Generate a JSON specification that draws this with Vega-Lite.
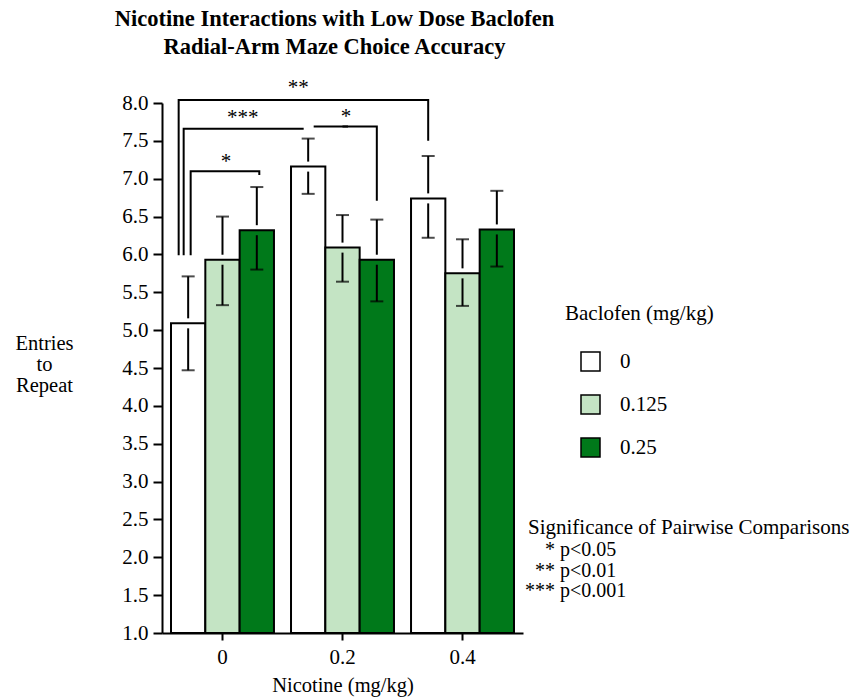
{
  "$schema": "https://vega.github.io/schema/vega-lite/v6.json",
  "width": 361,
  "height": 530,
  "autosize": {"type": "none"},
  "padding": {"left": 162, "top": 103, "right": 338, "bottom": 67},
  "background": "white",
  "title": {
    "text": ["Nicotine Interactions with Low Dose Baclofen", "Radial-Arm Maze Choice Accuracy"],
    "font": "Liberation Serif",
    "fontSize": 22.5,
    "fontWeight": "bold",
    "color": "black",
    "anchor": "middle",
    "dx": -8,
    "offset": 18,
    "lineHeight": 28
  },
  "config": {
    "view": {"stroke": null},
    "font": "Liberation Serif",
    "axis": {
      "domainColor": "black",
      "domainWidth": 2,
      "tickColor": "black",
      "tickWidth": 2,
      "labelColor": "black",
      "titleColor": "black",
      "labelFont": "Liberation Serif",
      "titleFont": "Liberation Serif",
      "labelFontSize": 21,
      "titleFontSize": 20.5,
      "titleFontWeight": "normal",
      "grid": false
    },
    "legend": {
      "labelFont": "Liberation Serif",
      "titleFont": "Liberation Serif",
      "labelFontSize": 21,
      "titleFontSize": 21,
      "titleFontWeight": "normal",
      "labelColor": "black",
      "titleColor": "black",
      "titleLimit": 400,
      "labelLimit": 300
    }
  },
  "resolve": {"scale": {"xOffset": "independent"}},
  "datasets": {
    "bars": [
      {"nicotine": "0", "baclofen": "0", "mean": 5.09, "lo": 4.47, "hi": 5.71},
      {"nicotine": "0", "baclofen": "0.125", "mean": 5.93, "lo": 5.33, "hi": 6.50},
      {"nicotine": "0", "baclofen": "0.25", "mean": 6.32, "lo": 5.80, "hi": 6.89},
      {"nicotine": "0.2", "baclofen": "0", "mean": 7.16, "lo": 6.80, "hi": 7.53},
      {"nicotine": "0.2", "baclofen": "0.125", "mean": 6.09, "lo": 5.64, "hi": 6.52},
      {"nicotine": "0.2", "baclofen": "0.25", "mean": 5.93, "lo": 5.38, "hi": 6.46},
      {"nicotine": "0.4", "baclofen": "0", "mean": 6.74, "lo": 6.22, "hi": 7.30},
      {"nicotine": "0.4", "baclofen": "0.125", "mean": 5.75, "lo": 5.32, "hi": 6.20},
      {"nicotine": "0.4", "baclofen": "0.25", "mean": 6.33, "lo": 5.84, "hi": 6.84}
    ],
    "brackets": [
      {"seg": "A-left", "ord": 1, "nicotine": "0", "baclofen": "0", "y": 5.99},
      {"seg": "A-left", "ord": 2, "nicotine": "0", "baclofen": "0", "y": 8.04},
      {"seg": "A-left", "ord": 3, "nicotine": "0", "baclofen": "0.125", "y": 8.04},
      {"seg": "A-main", "ord": 1, "nicotine": "0", "baclofen": "0", "y": 8.04},
      {"seg": "A-main", "ord": 2, "nicotine": "0.4", "baclofen": "0", "y": 8.04},
      {"seg": "A-main", "ord": 3, "nicotine": "0.4", "baclofen": "0", "y": 7.50},
      {"seg": "B", "ord": 1, "nicotine": "0", "baclofen": "0", "y": 5.99},
      {"seg": "B", "ord": 2, "nicotine": "0", "baclofen": "0", "y": 7.66},
      {"seg": "B", "ord": 3, "nicotine": "0.2", "baclofen": "0", "y": 7.66},
      {"seg": "C", "ord": 1, "nicotine": "0", "baclofen": "0", "y": 5.99},
      {"seg": "C", "ord": 2, "nicotine": "0", "baclofen": "0", "y": 7.10},
      {"seg": "C", "ord": 3, "nicotine": "0", "baclofen": "0.25", "y": 7.10},
      {"seg": "C", "ord": 4, "nicotine": "0", "baclofen": "0.25", "y": 7.05},
      {"seg": "D-left", "ord": 1, "nicotine": "0.2", "baclofen": "0", "y": 7.69},
      {"seg": "D-left", "ord": 2, "nicotine": "0.2", "baclofen": "0.125", "y": 7.69},
      {"seg": "D-main", "ord": 1, "nicotine": "0.2", "baclofen": "0.125", "y": 7.69},
      {"seg": "D-main", "ord": 2, "nicotine": "0.2", "baclofen": "0.25", "y": 7.69},
      {"seg": "D-main", "ord": 3, "nicotine": "0.2", "baclofen": "0.25", "y": 6.71}
    ],
    "labels": [
      {"stars": "**", "p": "p<0.01", "nicotine": "0.2", "baclofen": "0", "y": 8.04},
      {"stars": "***", "p": "p<0.001", "nicotine": "0", "baclofen": "0.25", "y": 7.66},
      {"stars": "*", "p": "p<0.05", "nicotine": "0", "baclofen": "0.125", "y": 7.10},
      {"stars": "*", "p": "p<0.05", "nicotine": "0.2", "baclofen": "0.125", "y": 7.69}
    ]
  },
  "encoding": {
    "x": {
      "field": "nicotine",
      "type": "nominal",
      "scale": {"domain": ["0", "0.2", "0.4"], "paddingInner": 0.142, "paddingOuter": 0.075},
      "axis": {"labelAngle": 0, "tickSize": 7, "labelPadding": 6, "titlePadding": 8},
      "title": "Nicotine (mg/kg)"
    },
    "xOffset": {
      "field": "baclofen",
      "type": "nominal",
      "scale": {"type": "band", "domain": ["0", "0.125", "0.25"], "paddingInner": 0, "paddingOuter": 0}
    }
  },
  "layer": [
    {
      "data": {"name": "bars"},
      "mark": {"type": "bar", "stroke": "black", "strokeWidth": 2},
      "encoding": {
        "y": {
          "field": "mean",
          "type": "quantitative",
          "scale": {"domain": [1, 8], "nice": false, "zero": false},
          "axis": {"values": [1, 1.5, 2, 2.5, 3, 3.5, 4, 4.5, 5, 5.5, 6, 6.5, 7, 7.5, 8], "format": ".1f", "tickSize": 9, "labelPadding": 5, "titleAngle": 0, "titleAlign": "center", "titleBaseline": "middle", "titleX": -118, "titleY": 240, "titleLineHeight": 21},
          "title": ["Entries", "to", "Repeat"]
        },
        "y2": {"datum": 1},
        "fill": {
          "field": "baclofen",
          "type": "nominal",
          "scale": {"domain": ["0", "0.125", "0.25"], "range": ["#ffffff", "#c4e4c4", "#00791a"]},
          "legend": {
            "title": "Baclofen (mg/kg)",
            "orient": "none",
            "legendX": 403,
            "legendY": 200,
            "symbolType": "square",
            "symbolSize": 361,
            "symbolStrokeColor": "black",
            "symbolStrokeWidth": 1.5,
            "symbolOffset": 15,
            "labelOffset": 19,
            "rowPadding": 18,
            "titlePadding": 27
          }
        }
      }
    },
    {
      "data": {"name": "bars"},
      "mark": {"type": "rule", "color": "black", "strokeWidth": 2, "y2Offset": -5},
      "encoding": {
        "y": {"field": "hi", "type": "quantitative", "scale": {"domain": [1, 8], "nice": false, "zero": false}, "axis": {"values": [1, 1.5, 2, 2.5, 3, 3.5, 4, 4.5, 5, 5.5, 6, 6.5, 7, 7.5, 8], "format": ".1f", "tickSize": 9, "labelPadding": 5, "titleAngle": 0, "titleAlign": "center", "titleBaseline": "middle", "titleX": -118, "titleY": 240, "titleLineHeight": 21}},
        "y2": {"field": "mean"}
      }
    },
    {
      "data": {"name": "bars"},
      "mark": {"type": "rule", "color": "black", "strokeWidth": 2, "yOffset": 5},
      "encoding": {
        "y": {"field": "mean", "type": "quantitative", "scale": {"domain": [1, 8], "nice": false, "zero": false}, "axis": {"values": [1, 1.5, 2, 2.5, 3, 3.5, 4, 4.5, 5, 5.5, 6, 6.5, 7, 7.5, 8], "format": ".1f", "tickSize": 9, "labelPadding": 5, "titleAngle": 0, "titleAlign": "center", "titleBaseline": "middle", "titleX": -118, "titleY": 240, "titleLineHeight": 21}},
        "y2": {"field": "lo"}
      }
    },
    {
      "data": {"name": "bars"},
      "mark": {"type": "tick", "color": "black", "size": 13, "thickness": 2, "orient": "horizontal"},
      "encoding": {
        "y": {"field": "lo", "type": "quantitative", "scale": {"domain": [1, 8], "nice": false, "zero": false}, "axis": {"values": [1, 1.5, 2, 2.5, 3, 3.5, 4, 4.5, 5, 5.5, 6, 6.5, 7, 7.5, 8], "format": ".1f", "tickSize": 9, "labelPadding": 5, "titleAngle": 0, "titleAlign": "center", "titleBaseline": "middle", "titleX": -118, "titleY": 240, "titleLineHeight": 21}}
      }
    },
    {
      "data": {"name": "bars"},
      "mark": {"type": "tick", "color": "black", "size": 13, "thickness": 2, "orient": "horizontal"},
      "encoding": {
        "y": {"field": "hi", "type": "quantitative", "scale": {"domain": [1, 8], "nice": false, "zero": false}, "axis": {"values": [1, 1.5, 2, 2.5, 3, 3.5, 4, 4.5, 5, 5.5, 6, 6.5, 7, 7.5, 8], "format": ".1f", "tickSize": 9, "labelPadding": 5, "titleAngle": 0, "titleAlign": "center", "titleBaseline": "middle", "titleX": -118, "titleY": 240, "titleLineHeight": 21}}
      }
    },
    {
      "data": {"name": "brackets"},
      "transform": [{"filter": "datum.seg == 'A-left'"}],
      "mark": {"type": "line", "color": "black", "strokeWidth": 2},
      "encoding": {
        "xOffset": {"field": "baclofen", "type": "nominal", "scale": {"type": "band", "domain": ["0", "0.125", "0.25"], "range": [-9.5, 93.47], "paddingInner": 0, "paddingOuter": 0}},
        "y": {"field": "y", "type": "quantitative", "scale": {"domain": [1, 8], "nice": false, "zero": false}, "axis": {"values": [1, 1.5, 2, 2.5, 3, 3.5, 4, 4.5, 5, 5.5, 6, 6.5, 7, 7.5, 8], "format": ".1f", "tickSize": 9, "labelPadding": 5, "titleAngle": 0, "titleAlign": "center", "titleBaseline": "middle", "titleX": -118, "titleY": 240, "titleLineHeight": 21}},
        "order": {"field": "ord"}
      }
    },
    {
      "data": {"name": "brackets"},
      "transform": [{"filter": "datum.seg == 'A-main'"}],
      "mark": {"type": "line", "color": "black", "strokeWidth": 2},
      "encoding": {
        "y": {"field": "y", "type": "quantitative", "scale": {"domain": [1, 8], "nice": false, "zero": false}, "axis": {"values": [1, 1.5, 2, 2.5, 3, 3.5, 4, 4.5, 5, 5.5, 6, 6.5, 7, 7.5, 8], "format": ".1f", "tickSize": 9, "labelPadding": 5, "titleAngle": 0, "titleAlign": "center", "titleBaseline": "middle", "titleX": -118, "titleY": 240, "titleLineHeight": 21}},
        "order": {"field": "ord"}
      }
    },
    {
      "data": {"name": "brackets"},
      "transform": [{"filter": "datum.seg == 'B'"}],
      "mark": {"type": "line", "color": "black", "strokeWidth": 2},
      "encoding": {
        "xOffset": {"field": "baclofen", "type": "nominal", "scale": {"type": "band", "domain": ["0", "0.125", "0.25"], "range": [-4.5, 98.47], "paddingInner": 0, "paddingOuter": 0}},
        "y": {"field": "y", "type": "quantitative", "scale": {"domain": [1, 8], "nice": false, "zero": false}, "axis": {"values": [1, 1.5, 2, 2.5, 3, 3.5, 4, 4.5, 5, 5.5, 6, 6.5, 7, 7.5, 8], "format": ".1f", "tickSize": 9, "labelPadding": 5, "titleAngle": 0, "titleAlign": "center", "titleBaseline": "middle", "titleX": -118, "titleY": 240, "titleLineHeight": 21}},
        "order": {"field": "ord"}
      }
    },
    {
      "data": {"name": "brackets"},
      "transform": [{"filter": "datum.seg == 'C'"}],
      "mark": {"type": "line", "color": "black", "strokeWidth": 2},
      "encoding": {
        "xOffset": {"field": "baclofen", "type": "nominal", "scale": {"type": "band", "domain": ["0", "0.125", "0.25"], "range": [2.5, 105.47], "paddingInner": 0, "paddingOuter": 0}},
        "y": {"field": "y", "type": "quantitative", "scale": {"domain": [1, 8], "nice": false, "zero": false}, "axis": {"values": [1, 1.5, 2, 2.5, 3, 3.5, 4, 4.5, 5, 5.5, 6, 6.5, 7, 7.5, 8], "format": ".1f", "tickSize": 9, "labelPadding": 5, "titleAngle": 0, "titleAlign": "center", "titleBaseline": "middle", "titleX": -118, "titleY": 240, "titleLineHeight": 21}},
        "order": {"field": "ord"}
      }
    },
    {
      "data": {"name": "brackets"},
      "transform": [{"filter": "datum.seg == 'D-left'"}],
      "mark": {"type": "line", "color": "black", "strokeWidth": 2},
      "encoding": {
        "xOffset": {"field": "baclofen", "type": "nominal", "scale": {"type": "band", "domain": ["0", "0.125", "0.25"], "range": [5.5, 108.47], "paddingInner": 0, "paddingOuter": 0}},
        "y": {"field": "y", "type": "quantitative", "scale": {"domain": [1, 8], "nice": false, "zero": false}, "axis": {"values": [1, 1.5, 2, 2.5, 3, 3.5, 4, 4.5, 5, 5.5, 6, 6.5, 7, 7.5, 8], "format": ".1f", "tickSize": 9, "labelPadding": 5, "titleAngle": 0, "titleAlign": "center", "titleBaseline": "middle", "titleX": -118, "titleY": 240, "titleLineHeight": 21}},
        "order": {"field": "ord"}
      }
    },
    {
      "data": {"name": "brackets"},
      "transform": [{"filter": "datum.seg == 'D-main'"}],
      "mark": {"type": "line", "color": "black", "strokeWidth": 2},
      "encoding": {
        "y": {"field": "y", "type": "quantitative", "scale": {"domain": [1, 8], "nice": false, "zero": false}, "axis": {"values": [1, 1.5, 2, 2.5, 3, 3.5, 4, 4.5, 5, 5.5, 6, 6.5, 7, 7.5, 8], "format": ".1f", "tickSize": 9, "labelPadding": 5, "titleAngle": 0, "titleAlign": "center", "titleBaseline": "middle", "titleX": -118, "titleY": 240, "titleLineHeight": 21}},
        "order": {"field": "ord"}
      }
    },
    {
      "data": {"name": "labels"},
      "transform": [{"filter": "datum.stars == '*'"}],
      "mark": {"type": "text", "font": "Liberation Serif", "fontSize": 21, "baseline": "alphabetic", "dx": 3.5, "dy": -3},
      "encoding": {
        "y": {"field": "y", "type": "quantitative", "scale": {"domain": [1, 8], "nice": false, "zero": false}, "axis": {"values": [1, 1.5, 2, 2.5, 3, 3.5, 4, 4.5, 5, 5.5, 6, 6.5, 7, 7.5, 8], "format": ".1f", "tickSize": 9, "labelPadding": 5, "titleAngle": 0, "titleAlign": "center", "titleBaseline": "middle", "titleX": -118, "titleY": 240, "titleLineHeight": 21}},
        "text": {"field": "stars"},
        "opacity": {
          "field": "stars",
          "type": "ordinal",
          "scale": {"domain": ["*", "**", "***"], "range": [1, 1]},
          "legend": {
            "title": "Significance of Pairwise Comparisons",
            "orient": "none",
            "legendX": 366,
            "legendY": 414,
            "symbolSize": 0,
            "symbolOpacity": 0,
            "symbolStrokeWidth": 0,
            "labelAlign": "right",
            "labelOffset": 7,
            "labelFontSize": 20,
            "rowPadding": 0.5,
            "titlePadding": 2
          }
        },
        "color": {
          "field": "p",
          "type": "nominal",
          "scale": {"domain": ["p<0.05", "p<0.01", "p<0.001"], "range": ["black", "black", "black"]},
          "legend": {
            "title": null,
            "orient": "none",
            "legendX": 378,
            "legendY": 437,
            "symbolSize": 0,
            "symbolOpacity": 0,
            "symbolStrokeWidth": 0,
            "labelOffset": 0,
            "labelFontSize": 20,
            "rowPadding": 0.5
          }
        }
      }
    },
    {
      "data": {"name": "labels"},
      "transform": [{"filter": "datum.stars == '**'"}],
      "mark": {"type": "text", "font": "Liberation Serif", "fontSize": 21, "baseline": "alphabetic", "dx": -10, "dy": -6},
      "encoding": {
        "y": {"field": "y", "type": "quantitative", "scale": {"domain": [1, 8], "nice": false, "zero": false}, "axis": {"values": [1, 1.5, 2, 2.5, 3, 3.5, 4, 4.5, 5, 5.5, 6, 6.5, 7, 7.5, 8], "format": ".1f", "tickSize": 9, "labelPadding": 5, "titleAngle": 0, "titleAlign": "center", "titleBaseline": "middle", "titleX": -118, "titleY": 240, "titleLineHeight": 21}},
        "text": {"field": "stars"},
        "opacity": {"field": "stars", "type": "ordinal", "scale": {"domain": ["*", "**", "***"], "range": [1, 1]}},
        "color": {"field": "p", "type": "nominal", "scale": {"domain": ["p<0.05", "p<0.01", "p<0.001"], "range": ["black", "black", "black"]}}
      }
    },
    {
      "data": {"name": "labels"},
      "transform": [{"filter": "datum.stars == '***'"}],
      "mark": {"type": "text", "font": "Liberation Serif", "fontSize": 21, "baseline": "alphabetic", "dx": -14, "dy": -5},
      "encoding": {
        "y": {"field": "y", "type": "quantitative", "scale": {"domain": [1, 8], "nice": false, "zero": false}, "axis": {"values": [1, 1.5, 2, 2.5, 3, 3.5, 4, 4.5, 5, 5.5, 6, 6.5, 7, 7.5, 8], "format": ".1f", "tickSize": 9, "labelPadding": 5, "titleAngle": 0, "titleAlign": "center", "titleBaseline": "middle", "titleX": -118, "titleY": 240, "titleLineHeight": 21}},
        "text": {"field": "stars"},
        "opacity": {"field": "stars", "type": "ordinal", "scale": {"domain": ["*", "**", "***"], "range": [1, 1]}},
        "color": {"field": "p", "type": "nominal", "scale": {"domain": ["p<0.05", "p<0.01", "p<0.001"], "range": ["black", "black", "black"]}}
      }
    }
  ]
}
